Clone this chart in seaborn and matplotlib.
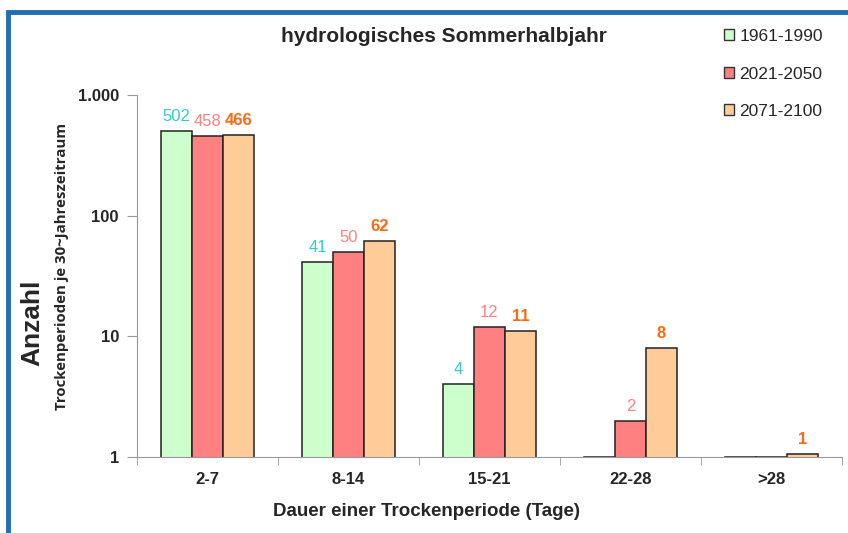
import matplotlib
matplotlib.use("Agg")
import matplotlib.pyplot as plt
from matplotlib.patches import Rectangle, Patch
import seaborn as sns
import pandas as pd
import numpy as np

# Data
categories = ["2-7", "8-14", "15-21", "22-28", ">28"]
periods = ["1961-1990", "2021-2050", "2071-2100"]
counts_1961 = [502, 41, 4, 1, 1]
counts_2021 = [458, 50, 12, 2, 1]
counts_2071 = [466, 62, 11, 8, 1.05]
labels_1961 = ["502", "41", "4", "", ""]
labels_2021 = ["458", "50", "12", "2", ""]
labels_2071 = ["466", "62", "11", "8", "1"]

bar_colors = ["#CCFFCC", "#FF8080", "#FFCC99"]
label_colors = ["#33CCCC", "#FF8080", "#FF6A10"]

df = pd.DataFrame({
    "Dauer": categories * 3,
    "Periode": [p for p in periods for _ in categories],
    "Anzahl": counts_1961 + counts_2021 + counts_2071,
})

sns.set_style("white")
plt.rcParams["font.family"] = ["Liberation Sans", "DejaVu Sans"]

fig = plt.figure(figsize=(8.48, 5.33), dpi=100)
ax = fig.add_axes([0.1616, 0.1426, 0.8314, 0.6792])

sns.barplot(data=df, x="Dauer", y="Anzahl", hue="Periode", order=categories,
            hue_order=periods, palette=bar_colors, saturation=1, width=0.66,
            gap=0, edgecolor="#222222", linewidth=1.1, ax=ax, legend=False)

ax.set_yscale("log")
ax.set_ylim(1, 1000)
ax.set_xlim(-0.5, 4.5)

# value labels above bars
all_labels = [labels_1961, labels_2021, labels_2071]
for i, cont in enumerate(ax.containers):
    for bar, lab in zip(cont, all_labels[i]):
        if not lab:
            continue
        x = bar.get_x() + bar.get_width() / 2
        y = bar.get_height()
        ax.annotate(lab, (x, y), xytext=(0, 5), textcoords="offset points",
                    ha="center", va="bottom", fontsize=12,
                    color=label_colors[i],
                    fontweight="bold" if i == 2 else "normal")

# axes styling
for s in ["top", "right"]:
    ax.spines[s].set_visible(False)
ax.spines["left"].set_color("#999999")
ax.spines["bottom"].set_color("#999999")
ax.set_yticks([1, 10, 100, 1000])
ax.set_yticklabels(["1", "10", "100", "1.000"], fontsize=12, fontweight="bold")
ax.yaxis.set_minor_locator(matplotlib.ticker.NullLocator())
ax.tick_params(axis="y", which="major", length=7, color="#999999", left=True, pad=6)
ax.set_xticks(range(len(categories)))
ax.set_xticklabels(categories, fontsize=12, fontweight="bold")
ax.set_xticks(np.arange(-0.5, 5.0, 1.0), minor=True)
ax.tick_params(axis="x", which="major", length=0, pad=11)
ax.tick_params(axis="x", which="minor", length=6, color="#999999", bottom=True)

ax.set_xlabel("Dauer einer Trockenperiode (Tage)", fontsize=13.5,
              fontweight="bold")
ax.xaxis.set_label_coords(0.411, -0.128)
ax.set_ylabel("")
fig.text(0.038, 0.394, "Anzahl", rotation=90, fontsize=19, fontweight="bold",
         ha="center", va="center")
fig.text(0.073, 0.50, "Trockenperioden je 30~Jahreszeitraum", rotation=90,
         fontsize=10.8, fontweight="bold", ha="center", va="center",
         family=["Open Sans", "DejaVu Sans"])

fig.text(0.524, 0.931, "hydrologisches Sommerhalbjahr", fontsize=15,
         fontweight="bold", ha="center", va="center")

handles = [Patch(facecolor=c, edgecolor="#333333", linewidth=1) for c in bar_colors]
fig.legend(handles, periods, loc="upper left", bbox_to_anchor=(0.835, 0.975),
           frameon=False, fontsize=12.5, handlelength=0.6, handleheight=0.6,
           handletextpad=0.3, labelspacing=1.3)

# blue frame around the chart
fig.patches.append(Rectangle((8 / 848, -0.05), 1.0, 1 - 12 / 533 + 0.05,
                             transform=fig.transFigure, fill=False,
                             edgecolor="#1F6EB4", linewidth=3.5))

fig.savefig("out.png", dpi=100)
